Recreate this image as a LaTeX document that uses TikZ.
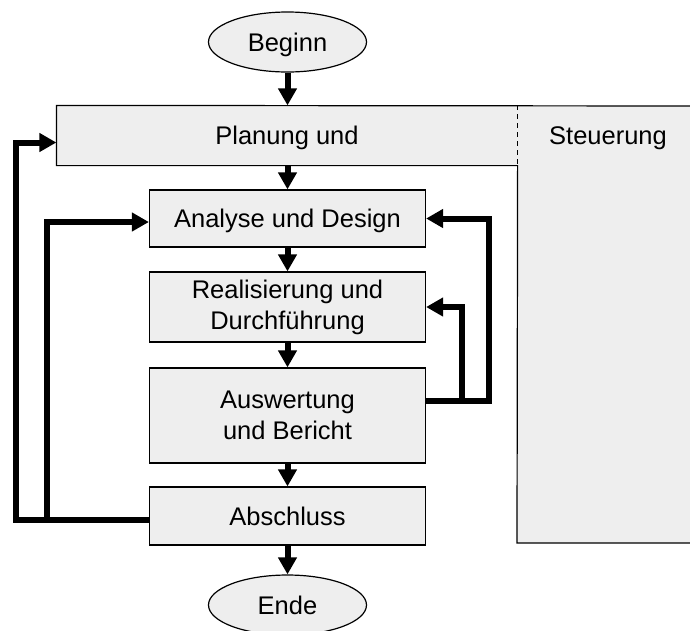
\documentclass[tikz,border=0pt]{standalone}
\usepackage{fontspec}
\setmainfont{Liberation Sans}
\usetikzlibrary{arrows.meta,shapes.geometric}
\definecolor{boxgray}{RGB}{238,238,238}
\tikzset{
  lbl/.style={font=\fontsize{25.5}{31}\selectfont},
  box/.style={lbl, draw, line width=1.2pt, fill=boxgray, inner sep=0pt, align=center},
  onebox/.style={box, text height=18pt, text depth=0pt},
  term/.style={lbl, ellipse, draw, line width=1.2pt, fill=boxgray, inner sep=0pt,
    minimum width=158pt, minimum height=60pt, text height=18pt, text depth=0pt},
  flow/.style={line width=6pt, -{Triangle[length=17pt,width=18pt]}},
  frame/.style={line width=1.2pt}
}
\begin{document}
\begin{tikzpicture}[x=1pt,y=-1pt]
\clip (0,0) rectangle (690,630);
\fill[white] (0,0) rectangle (690,630);
% Steuerung panel
\fill[boxgray] (517,106) rectangle (700,543);
\node[onebox, draw=none, minimum width=460pt, minimum height=59pt] (plan) at (287,135.5) {Planung und};
\draw[frame] (700,106) -- (plan.north west) -- (plan.south west) -- (plan.south east) -- (517,543) -- (700,543);
\draw[frame, dashed, dash pattern=on 5pt off 4pt] (plan.north east) -- (plan.south east);
\node[lbl, text height=18pt, text depth=0pt] (steu) at (608,135) {Steuerung};
% main column
\node[term] (begin) at (287.5,42) {Beginn};
\node[onebox, minimum width=276pt, minimum height=57pt] (ana) at (287.5,218.5) {Analyse und Design};
\node[box, minimum width=276pt, minimum height=70pt] (rea) at (287.5,307) {Realisierung und\\Durchführung};
\node[box, minimum width=276pt, minimum height=95pt] (aus) at (287.5,415.5) {Auswertung\\und Bericht};
\node[onebox, minimum width=276pt, minimum height=58pt] (abs) at (287.5,516) {Abschluss};
\node[term] (ende) at (287.5,605) {Ende};
% main flow
\draw[flow] (begin) -- (begin |- plan.north);
\draw[flow] (ana |- plan.south) -- (ana.north);
\draw[flow] (ana) -- (rea);
\draw[flow] (rea) -- (aus);
\draw[flow] (aus) -- (abs);
\draw[flow] (abs) -- (ende);
% loops
\coordinate (lo) at (16,520);
\coordinate (li) at (47,520);
\coordinate (ro) at (489,401);
\coordinate (ri) at (462,401);
\draw[flow] ([yshift=-4pt]abs.west) -- (lo) |- ([yshift=-7pt]plan.west);
\draw[flow] (li) |- ([yshift=-3.5pt]ana.west);
\draw[flow] (aus.east |- ro) -- (ro) |- (ana.east);
\draw[flow] (ri) |- (rea.east);
\end{tikzpicture}
\end{document}
